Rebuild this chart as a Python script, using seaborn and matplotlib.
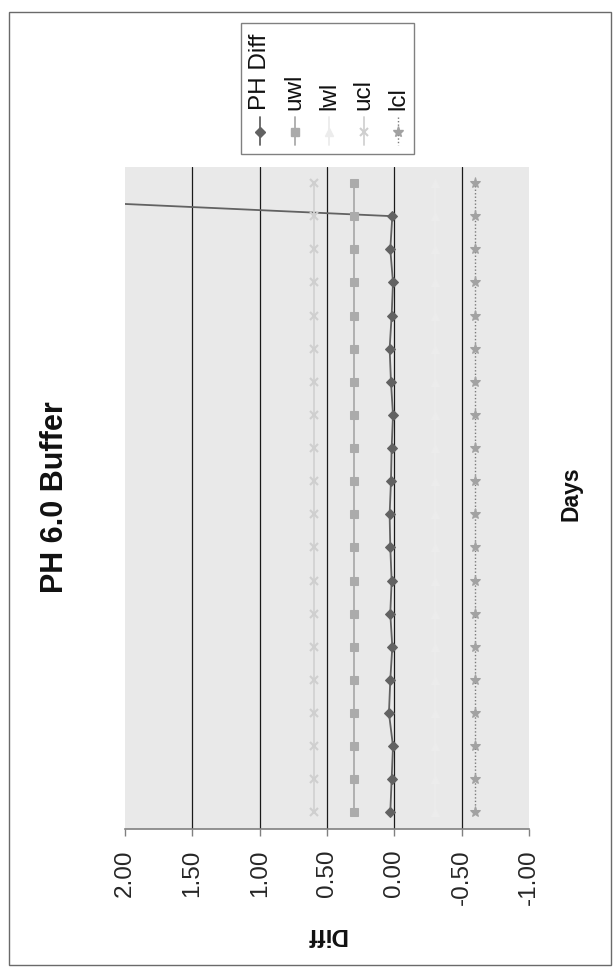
import numpy as np
import pandas as pd
import matplotlib
matplotlib.use("Agg")
import matplotlib.pyplot as plt
import seaborn as sns
from matplotlib.lines import Line2D
from matplotlib.patches import Rectangle

# ---------------- data ----------------
days = [1, 2, 3, 4, 5, 6, 7, 8, 9, 10, 11, 12, 13, 14, 15, 16, 17, 18, 19, 20]
ph_diff = [0.03, 0.02, 0.01, 0.04, 0.03, 0.015, 0.03, 0.02, 0.03, 0.035,
           0.025, 0.02, 0.01, 0.025, 0.035, 0.02, 0.01, 0.03, 0.015, 5.4]
uwl = [0.30, 0.30, 0.30, 0.30, 0.30, 0.30, 0.30, 0.30, 0.30, 0.30,
       0.30, 0.30, 0.30, 0.30, 0.30, 0.30, 0.30, 0.30, 0.30, 0.30]
lwl = [-0.30, -0.30, -0.30, -0.30, -0.30, -0.30, -0.30, -0.30, -0.30, -0.30,
       -0.30, -0.30, -0.30, -0.30, -0.30, -0.30, -0.30, -0.30, -0.30, -0.30]
ucl = [0.60, 0.60, 0.60, 0.60, 0.60, 0.60, 0.60, 0.60, 0.60, 0.60,
       0.60, 0.60, 0.60, 0.60, 0.60, 0.60, 0.60, 0.60, 0.60, 0.60]
lcl = [-0.60, -0.60, -0.60, -0.60, -0.60, -0.60, -0.60, -0.60, -0.60, -0.60,
       -0.60, -0.60, -0.60, -0.60, -0.60, -0.60, -0.60, -0.60, -0.60, -0.60]
series_names = ["PH Diff", "uwl", "lwl", "ucl", "lcl"]
diff_ticks = [2.0, 1.5, 1.0, 0.5, 0.0, -0.5, -1.0]
tick_labels = ["2.00", "1.50", "1.00", "0.50", "0.00", "-0.50", "-1.00"]
title = "PH 6.0 Buffer"
x_title = "Days"
y_title = "Diff"

frames = []
for name, vals in zip(series_names, [ph_diff, uwl, lwl, ucl, lcl]):
    frames.append(pd.DataFrame({"day": days, "diff": vals, "series": name}))
df = pd.concat(frames, ignore_index=True)

# ---------------- style ----------------
sns.set_style("white")
plt.rcParams["font.family"] = ["Liberation Sans", "DejaVu Sans"]

W, H = 613, 973
fig = plt.figure(figsize=(W / 100, H / 100), dpi=100)
fig.patch.set_facecolor("white")


def fx(px):
    return px / W


def fy(py):
    return 1 - py / H


styles = {
    "PH Diff": dict(color="#626262", marker="D", markersize=5.0, linewidth=1.3,
                    linestyle="-", mfc="#626262", mec="#626262"),
    "uwl": dict(color="#ababab", marker="s", markersize=5.5, linewidth=1.3,
                linestyle="-", mfc="#ababab", mec="#ababab"),
    "lwl": dict(color="#ececec", marker="^", markersize=5.5, linewidth=1.3,
                linestyle="-", mfc="#ececec", mec="#ececec"),
    "ucl": dict(color="#d2d2d2", marker="x", markersize=5.5, linewidth=1.3,
                linestyle="-", mfc="#cfcfcf", mec="#cfcfcf", mew=1.5),
    "lcl": dict(color="#7a7a7a", marker="*", markersize=8.0, linewidth=1.0,
                linestyle=(0, (1, 1.5)), mfc="#a2a2a2", mec="#a2a2a2"),
}

# plot area (pixels): x 125..529, y 166.5..829
ax = fig.add_axes([fx(125), fy(829), (529 - 125) / W, (829 - 166.5) / H])
ax.set_facecolor("#e9e9e9")

for name in series_names:
    st = dict(styles[name])
    sub = df[df["series"] == name]
    sns.lineplot(data=sub, x="diff", y="day", orient="y", estimator=None,
                 sort=True, ax=ax, legend=False, **st)

ax.set_xlim(2.0, -1.0)
ax.set_ylim(0.5, 20.5)

# gridlines (major, every 0.5), black
for v in diff_ticks[1:-1]:
    ax.axvline(v, color="#1a1a1a", linewidth=0.9, zorder=0.5)

ax.set_xticks(diff_ticks)
ax.set_xticklabels(tick_labels, rotation=90, fontsize=17.5, va="top", ha="center")
ax.set_yticks([])
ax.tick_params(axis="x", direction="out", length=5, width=1, color="#808080",
               pad=10, bottom=True)
for s in ["top", "right", "left"]:
    ax.spines[s].set_visible(False)
ax.spines["bottom"].set_color("#808080")
ax.spines["bottom"].set_linewidth(1.2)
ax.set_xlabel("")
ax.set_ylabel("")

# titles (rotated like the reference)
fig.text(fx(55), fy(497), title, rotation=90, fontsize=22, fontweight="bold",
         ha="center", va="center", color="#111111")
fig.text(fx(571), fy(494), x_title, rotation=90, fontsize=16.5, fontweight="bold",
         ha="center", va="center", color="#111111")
fig.text(fx(326), fy(934), y_title, rotation=180, fontsize=17.5, fontweight="bold",
         ha="center", va="center", color="#111111")

# outer chart border
fig.add_artist(Rectangle((fx(9), fy(965)), (611 - 9) / W, (965 - 12) / H,
                         transform=fig.transFigure, fill=False,
                         edgecolor="#6a6a6a", linewidth=1.0))

# legend (rotated)
fig.add_artist(Rectangle((fx(241), fy(154)), (414 - 241) / W, (154 - 23) / H,
                         transform=fig.transFigure, facecolor="white",
                         edgecolor="#808080", linewidth=1.0))
for i, name in enumerate(series_names):
    st = styles[name]
    xc = 260 + i * 34.6
    fig.add_artist(Line2D([fx(xc), fx(xc)], [fy(117), fy(145)],
                          transform=fig.transFigure, color=st["color"],
                          linewidth=st["linewidth"], linestyle=st["linestyle"]))
    fig.add_artist(Line2D([fx(xc)], [fy(131.5)], transform=fig.transFigure,
                          marker=st["marker"], markersize=st["markersize"],
                          mfc=st["mfc"], mec=st["mec"], mew=st.get("mew", 1.0),
                          linestyle="none"))
    fig.text(fx(xc), fy(110), name, rotation=90, fontsize=17.5,
             ha="center", va="bottom", color="#111111")

fig.savefig("out.png", dpi=100, facecolor="white")
